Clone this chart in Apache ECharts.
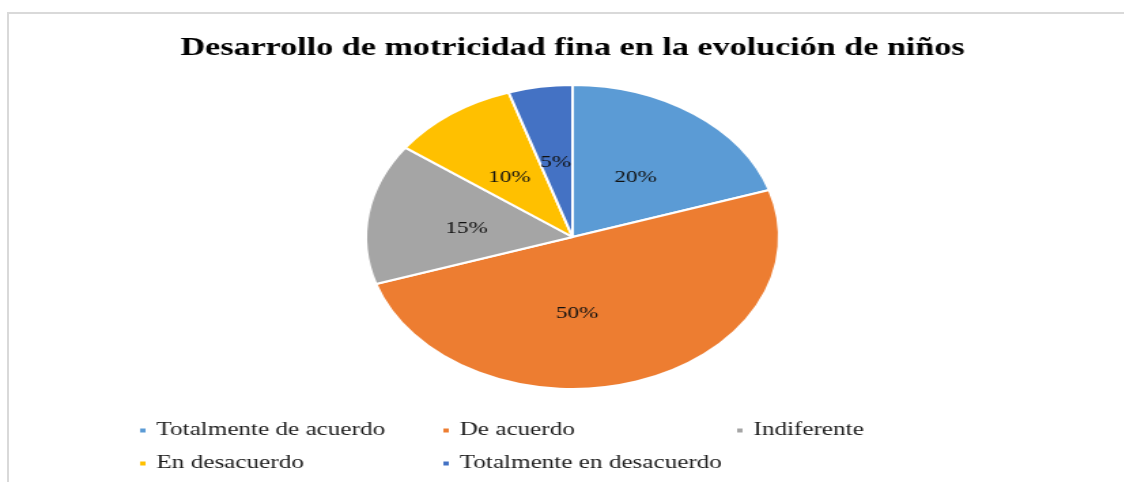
<!DOCTYPE html>
<html>
<head>
<meta charset="utf-8">
<script src="https://cdn.jsdelivr.net/npm/echarts@6/dist/echarts.min.js"></script>
<style>
    html, body { margin: 0; padding: 0; background: #fff; }
    #wrap { position: relative; width: 1124px; height: 482px; overflow: hidden; }
    #frame {
        position: absolute; left: 7px; top: 12px; width: 1200px; height: 600px;
        border-left: 2px solid #d9d9d9; border-top: 2px solid #d9d9d9;
    }
    /* the source picture is stretched sideways, so the chart is too */
    #J-pie {
        position: absolute; left: 0; top: 0; width: 842px; height: 482px;
        transform: scaleX(1.36); transform-origin: 0 0;
    }
</style>
</head>
<body>
<div id="wrap">
    <div id="frame"></div>
    <div id="J-pie"></div>
</div>
<script>
    const titleText = 'Desarrollo de motricidad fina en la evolución de niños';
    const categories = ['Totalmente de acuerdo', 'De acuerdo', 'Indiferente', 'En desacuerdo', 'Totalmente en desacuerdo'];
    const values = [20, 50, 15, 10, 5];
    const COLORS = ['#5B9BD5', '#ED7D31', '#A5A5A5', '#FFC000', '#4472C4'];

    // legend columns, as laid out in the picture
    const legendCols = [
        [categories[0], categories[3]],
        [categories[1], categories[4]],
        [categories[2]]
    ];
    const legendLeft = [101, 324, 540];

    const FONT = '"Liberation Serif", "Times New Roman", serif';

    const option = {
        color: COLORS,
        animation: false,
        title: {
            text: titleText,
            left: 'center',
            top: 31,
            textStyle: {
                fontFamily: FONT,
                fontSize: 25.1,
                fontWeight: 'bold',
                color: '#000'
            }
        },
        legend: legendCols.map(function(col, i) {
            return {
                data: col,
                orient: 'vertical',
                left: legendLeft[i],
                top: 421,
                padding: 0,
                itemWidth: 6,
                itemHeight: 6,
                itemGap: 14,
                icon: 'rect',
                selectedMode: false,
                textStyle: {
                    fontFamily: FONT,
                    fontSize: 18.5,
                    color: '#1a1a1a',
                    padding: [0, 0, 0, 2]
                }
            };
        }),
        series: [
            {
                type: 'pie',
                center: [421, 237],
                radius: 152,
                startAngle: 90,
                clockwise: true,
                data: categories.map(function(name, i) {
                    const item = { name: name, value: values[i] };
                    // Excel nudged the big slice's label to sit under the centre
                    if (i === 1) item.label = { offset: [-21, 1] };
                    return item;
                }),
                itemStyle: {
                    borderColor: '#fff',
                    borderWidth: 2
                },
                label: {
                    show: true,
                    position: 'inside',
                    formatter: '{c}%',
                    offset: [0, 4],
                    fontFamily: FONT,
                    fontSize: 17,
                    color: '#111'
                },
                labelLine: { show: false },
                emphasis: { disabled: true }
            }
        ]
    };

    const chart = echarts.init(document.getElementById('J-pie'));
    chart.setOption(option);
</script>
</body>
</html>
